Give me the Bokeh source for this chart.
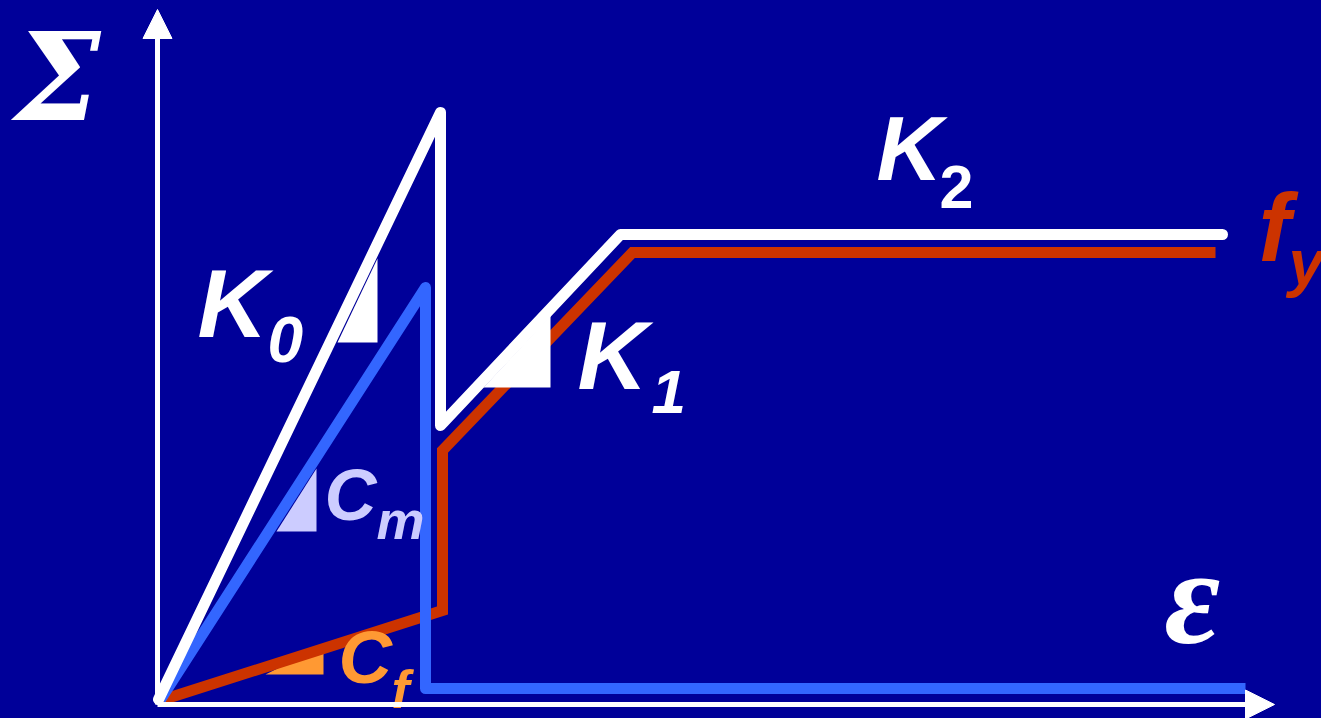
from bokeh.plotting import figure
from bokeh.models import Range1d, Arrow, NormalHead
from bokeh.core.properties import value
from bokeh.embed import file_html
from bokeh.resources import INLINE

BG = "#000099"
WHITE = "#FFFFFF"
RED = "#CC3300"
BLUE = "#3366FF"
LAV = "#CCCCFF"
ORANGE = "#FF9933"

# ---- data (strain eps, stress sigma), arbitrary units ----
# composite (white) curve: K0 -> drop -> K1 -> K2
eps_c = [1, 283, 283, 463, 1065]
sig_c = [5, 592, 279, 470, 470]
# fibre (red) curve: Cf -> jump -> K1 -> plateau fy
eps_f = [3, 285, 285, 475, 1058]
sig_f = [4, 94, 254, 452, 452]
# matrix (blue) curve: Cm -> failure
eps_m = [3, 268, 268, 1088]
sig_m = [5, 417, 16, 16]

# slope triangles
tri_K0_x = [180, 220, 220]; tri_K0_y = [362, 362, 446]
tri_K1_x = [326, 393, 393]; tri_K1_y = [317, 317, 389]
tri_Cm_x = [119, 159, 159]; tri_Cm_y = [173, 173, 236]
tri_Cf_x = [108, 166, 166]; tri_Cf_y = [30, 30, 59]

# axes extents
x_axis_end = 1117
y_axis_end = 695

p = figure(width=1321, height=718, output_backend="svg", toolbar_location=None,
           x_range=Range1d(-157, 1164), y_range=Range1d(-14, 704),
           x_axis_type=None, y_axis_type=None, min_border=0)
p.background_fill_color = BG
p.border_fill_color = BG
p.outline_line_color = None
p.grid.visible = False

# triangles under lines
p.patch(tri_Cf_x, tri_Cf_y, fill_color=ORANGE, line_color=None)
p.patch(tri_Cm_x, tri_Cm_y, fill_color=LAV, line_color=None)

p.line(eps_f, sig_f, line_color=RED, line_width=11, line_join="miter", line_cap="butt")
p.line(eps_m, sig_m, line_color=BLUE, line_width=11, line_join="round", line_cap="butt")
p.line(eps_c, sig_c, line_color=WHITE, line_width=11, line_join="round", line_cap="round")

p.patch(tri_K0_x, tri_K0_y, fill_color=WHITE, line_color=None)
p.patch(tri_K1_x, tri_K1_y, fill_color=WHITE, line_color=None)

SANS = value("Liberation Sans")
SERIF = value("Liberation Serif")
DSERIF = value("DejaVu Serif")

def txt(x, y, s, color, size, style, font=SANS, k=0.38):
    # baseline correction for how the text glyph places 'alphabetic' text
    y = y + k * size
    p.text(x=[x], y=[y], text=[s], text_color=color, text_font=font,
           text_font_size=f"{size}px", text_font_style=style,
           text_baseline="alphabetic", text_align="left")

# main labels
txt(-143, 581, "Σ", WHITE, 122, "bold italic", DSERIF)
txt(1007, 56, "ε", WHITE, 136, "bold italic", SERIF)

txt(40, 364, "K", WHITE, 97, "bold italic")
txt(110, 341, "0", WHITE, 64, "bold italic")

txt(420, 312, "K", WHITE, 97, "bold italic")
txt(494, 289, "1", WHITE, 62, "bold italic")

txt(719, 521, "K", WHITE, 91, "bold italic")
txt(782, 494, "2", WHITE, 61, "bold")

txt(167, 182, "C", LAV, 72, "bold italic")
txt(219, 164, "m", LAV, 54, "bold italic")

txt(181, 19, "C", ORANGE, 74, "bold italic")
txt(234, -5, "f", ORANGE, 54, "bold italic")

txt(1101, 441, "f", RED, 96, "bold italic")
txt(1131, 417, "y", RED, 64, "bold italic")

# axes arrows (drawn above the curves)
p.add_layout(Arrow(end=NormalHead(size=29, fill_color=WHITE, line_color=WHITE),
                   x_start=0, y_start=0, x_end=x_axis_end, y_end=0,
                   line_color=WHITE, line_width=5))
p.add_layout(Arrow(end=NormalHead(size=29, fill_color=WHITE, line_color=WHITE),
                   x_start=0, y_start=0, x_end=0, y_end=y_axis_end,
                   line_color=WHITE, line_width=5))

html = file_html(p, INLINE)
html = html.replace("</head>", "<style>html,body{margin:0;padding:0;background:#000099;overflow:hidden}</style></head>", 1)
open("out.html", "w").write(html)
